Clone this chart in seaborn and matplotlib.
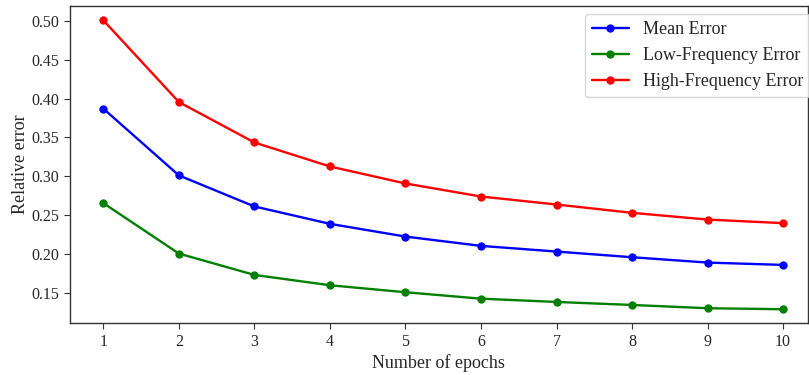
import pandas as pd
import numpy as np
import seaborn as sns
import matplotlib
matplotlib.use('Agg')
import matplotlib.pyplot as plt

# values
epochs = [1, 2, 3, 4, 5, 6, 7, 8, 9, 10]
mean_err = [0.387, 0.301, 0.261, 0.2386, 0.2222, 0.2102, 0.2029, 0.1956, 0.1887, 0.1857]
low_err = [0.2653, 0.2003, 0.1728, 0.1595, 0.1505, 0.1422, 0.1380, 0.1341, 0.1299, 0.1286]
high_err = [0.5008, 0.3955, 0.3434, 0.3125, 0.2906, 0.2738, 0.2635, 0.2528, 0.2441, 0.2395]
series_names = ['Mean Error', 'Low-Frequency Error', 'High-Frequency Error']
colors = ['blue', 'green', 'red']

# long form table for seaborn
df = pd.DataFrame({
    'epoch': epochs * 3,
    'error': mean_err + low_err + high_err,
    'kind': np.repeat(series_names, len(epochs)),
})

sns.set_style('ticks')
plt.rcParams['font.family'] = ['Liberation Serif', 'DejaVu Serif']

fig = plt.figure(figsize=(8.09, 3.75), dpi=100)
ax = fig.add_axes([0.0862, 0.1379, 0.9126, 0.8469])

sns.lineplot(data=df, x='epoch', y='error', hue='kind', palette=colors,
             marker='o', markersize=6, markeredgewidth=0, linewidth=1.7, ax=ax)

ax.set_xticks(epochs)
ax.set_xlim(0.555, 10.33)
ax.set_ylim(0.1105, 0.5196)
ax.set_yticks([0.15, 0.20, 0.25, 0.30, 0.35, 0.40, 0.45, 0.50])
ax.set_yticklabels(['0.15', '0.20', '0.25', '0.30', '0.35', '0.40', '0.45', '0.50'])
ax.tick_params(labelsize=11.5, color='#333333', length=4)
ax.set_xlabel('Number of epochs', fontsize=13, labelpad=3)
ax.set_ylabel('Relative error', fontsize=13, labelpad=2)
for s in ax.spines.values():
    s.set_color('#333333')
    s.set_linewidth(1.0)

ax.legend(title=None, loc='upper right', bbox_to_anchor=(1.012, 0.994),
          fontsize=13, frameon=True, borderaxespad=0.35, handlelength=2.0)

fig.savefig('out.png', dpi=100)
